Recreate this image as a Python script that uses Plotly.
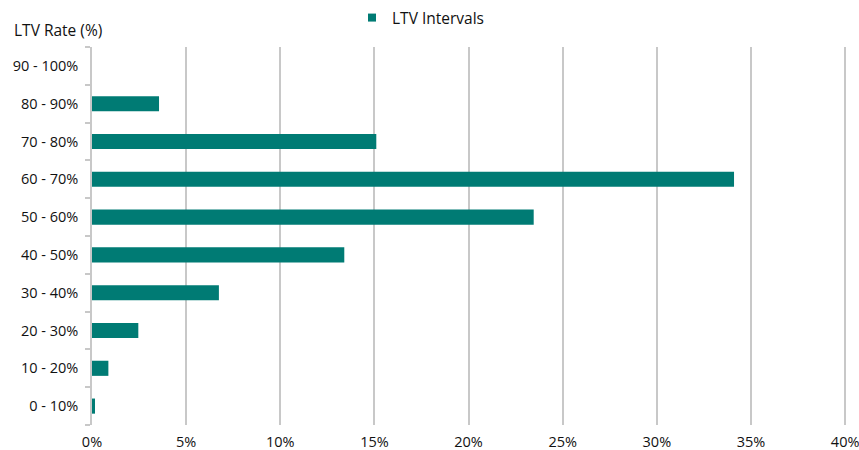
import plotly.graph_objects as go

# LTV distribution by interval
categories = ["0 - 10%", "10 - 20%", "20 - 30%", "30 - 40%", "40 - 50%",
              "50 - 60%", "60 - 70%", "70 - 80%", "80 - 90%", "90 - 100%"]
shares = [0.16, 0.87, 2.46, 6.74, 13.4, 23.46, 34.1, 15.1, 3.56, 0.0]
x_ticks = [0, 5, 10, 15, 20, 25, 30, 35, 40]
x_tick_labels = ["0%", "5%", "10%", "15%", "20%", "25%", "30%", "35%", "40%"]
series_name = "LTV Intervals"
axis_title = "LTV Rate (%)"

BAR = "#007B74"
GRID = "#C8C8C8"
FONT = "Open Sans"
TEXT = "#111111"

# plot area in pixels
L, R, T, B = 92, 12, 47, 25
PW, PH = 859 - L - R, 450 - T - B

fig = go.Figure()
fig.add_trace(
    go.Bar(
        y=categories,
        x=shares,
        orientation="h",
        name=series_name,
        legendgroup="ltv",
        showlegend=False,
        marker=dict(color=BAR, line=dict(width=0)),
    )
)
# legend swatch: small square for the series
fig.add_trace(
    go.Scatter(
        x=[None],
        y=[None],
        mode="markers",
        name=series_name,
        legendgroup="ltv",
        marker=dict(symbol="square", size=8, color=BAR),
        hoverinfo="skip",
    )
)

fig.update_layout(
    width=859,
    height=450,
    margin=dict(l=L, r=R, t=T, b=B, autoexpand=False),
    paper_bgcolor="white",
    plot_bgcolor="white",
    bargap=0.6,
    font=dict(family=FONT, size=14.5, color=TEXT),
    showlegend=True,
    legend=dict(
        orientation="h",
        x=(352 - L) / PW,
        xanchor="left",
        y=1 + (T - 18) / PH,
        yanchor="middle",
        font=dict(size=15.5, color=TEXT),
        itemwidth=30,
        bgcolor="rgba(0,0,0,0)",
    ),
)

fig.add_annotation(
    text=axis_title,
    x=(12 - L) / PW,
    y=1 + (T - 30) / PH,
    xref="paper",
    yref="paper",
    xanchor="left",
    yanchor="middle",
    showarrow=False,
    font=dict(size=15.5, color=TEXT),
)

fig.update_xaxes(
    range=[0, 40.1],
    tickvals=x_ticks,
    ticktext=x_tick_labels,
    showgrid=True,
    gridcolor=GRID,
    gridwidth=1.5,
    zeroline=False,
    showline=False,
    ticks="",
    ticklabelstandoff=6,
    ticklabeloverflow="allow",
    automargin=False,
    tickfont=dict(size=14.5, color=TEXT),
)

fig.update_yaxes(
    type="category",
    categoryorder="array",
    categoryarray=categories,
    range=[-0.5, len(categories) - 0.5],
    showline=True,
    linecolor=GRID,
    linewidth=1.5,
    ticks="outside",
    tickson="boundaries",
    ticklen=5,
    tickcolor=GRID,
    tickwidth=1.5,
    ticklabelstandoff=9,
    showgrid=False,
    automargin=False,
    tickfont=dict(size=14.5, color=TEXT),
)

fig.write_html("out.html")
